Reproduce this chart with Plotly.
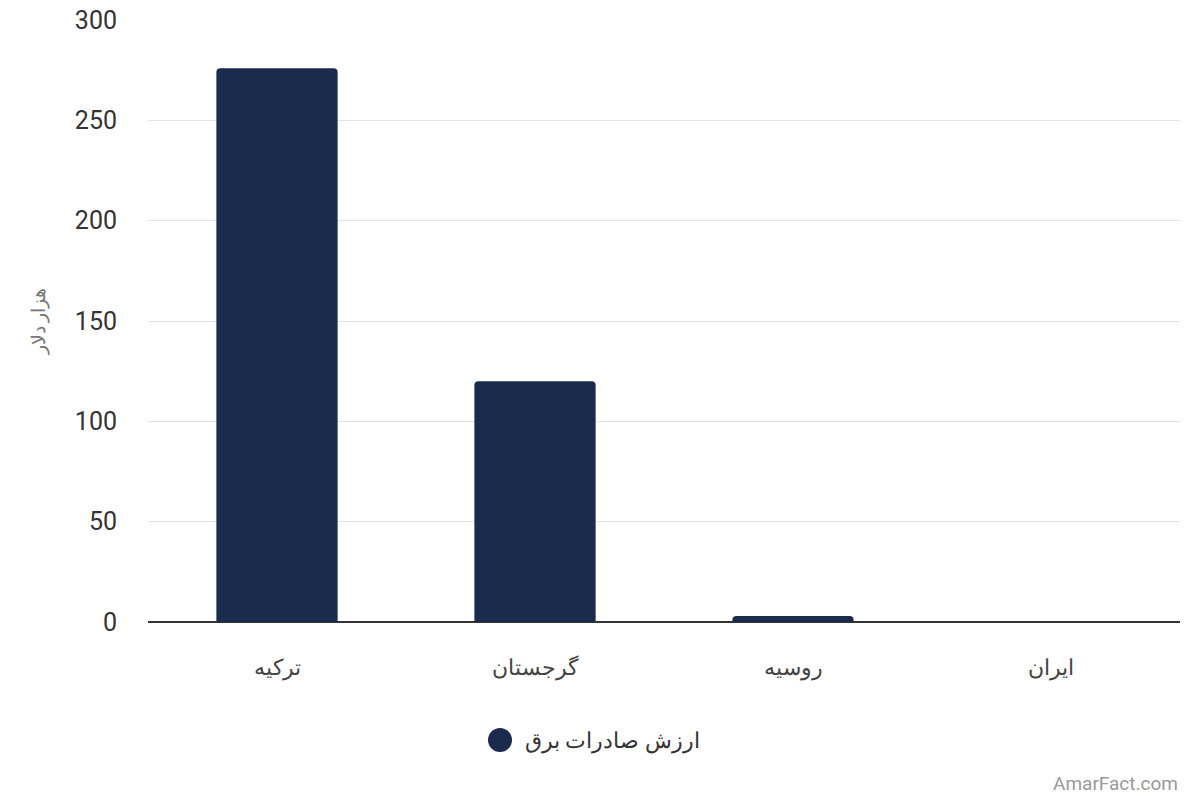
import plotly.graph_objects as go

categories = ["ترکیه", "گرجستان", "روسیه", "ایران"]
values = [276, 120, 3, 0]
series_name = "ارزش صادرات برق"
y_title = "هزار دلار"
y_ticks = [0, 50, 100, 150, 200, 250, 300]

color = "#1b2b4e"

fig = go.Figure()
fig.add_trace(go.Bar(x=categories, y=values, marker=dict(color=color, line=dict(width=0)),
                     showlegend=False, width=0.47, name=series_name))

fig.update_layout(
    width=1200, height=800,
    paper_bgcolor="white", plot_bgcolor="white",
    margin=dict(l=148, r=20, t=20, b=178, autoexpand=False),
    font=dict(family="Roboto, 'Noto Sans', sans-serif", color="#444"),
    barcornerradius=4,
    showlegend=False,
    xaxis=dict(showgrid=False, tickfont=dict(size=22, color="#444"), ticks="",
               showline=False, automargin=False, ticklabelstandoff=30),
    yaxis=dict(range=[0, 300], tickvals=y_ticks, tickfont=dict(size=25, color="#333"),
               gridcolor="#e3e3e3", gridwidth=1, zeroline=True, zerolinecolor="#333",
               zerolinewidth=2, ticklabelstandoff=30, automargin=False,
               title=dict(text=y_title, font=dict(size=19, color="#777"), standoff=24)),
    shapes=[dict(type="circle", xref="paper", yref="paper", xsizemode="pixel", ysizemode="pixel",
                 xanchor=(500 - 148) / 1032, yanchor=(622 - 740) / 602,
                 x0=-12, x1=12, y0=-12, y1=12, fillcolor=color, line=dict(width=0))],
    annotations=[
        dict(text=series_name, x=(523 - 148) / 1032, xref="paper", xanchor="left",
             y=(622 - 741) / 602, yref="paper", yanchor="middle", showarrow=False,
             font=dict(size=22, color="#333")),
        dict(text="AmarFact.com", x=1, xref="paper", xanchor="right",
             y=0, yref="paper", yanchor="middle", yshift=-161, showarrow=False,
             font=dict(size=19, color="#999"))],
)
fig.write_html("out.html", config={"displayModeBar": False},
               post_script="document.body.style.margin='0';")
